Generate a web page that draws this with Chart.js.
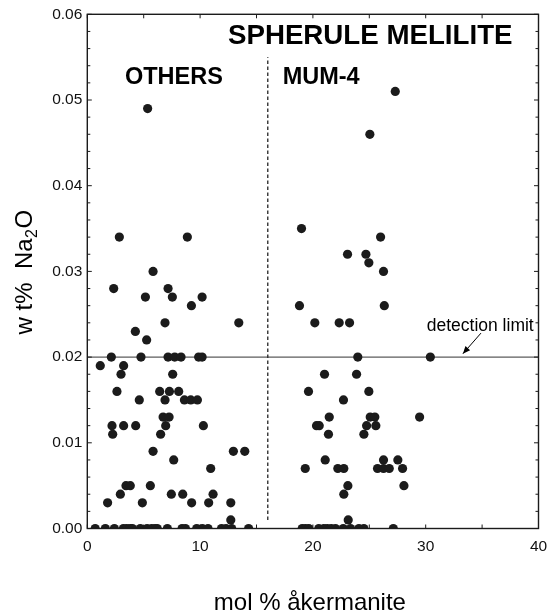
<!DOCTYPE html>
<html>
<head>
<meta charset="utf-8">
<script src="https://cdn.jsdelivr.net/npm/chart.js@4.4.1/dist/chart.umd.min.js"></script>
<style>
  html, body { margin: 0; padding: 0; background: #fff; }
</style>
</head>
<body>
<canvas id="chart" width="547" height="613"></canvas>
<script>
// [mol % akermanite, wt% Na2O]
const othersPts = [
  [5.35, 0.049],
  [2.84, 0.034], [8.87, 0.034],
  [5.83, 0.030],
  [2.34, 0.028], [7.16, 0.028],
  [5.15, 0.027], [7.54, 0.027], [10.18, 0.027],
  [9.23, 0.026],
  [6.89, 0.024], [13.43, 0.024],
  [4.26, 0.023],
  [5.26, 0.022],
  [2.13, 0.020], [4.76, 0.020], [7.16, 0.020], [7.75, 0.020], [8.31, 0.020], [9.87, 0.020], [10.18, 0.020],
  [1.15, 0.019], [3.22, 0.019],
  [2.99, 0.018], [7.57, 0.018],
  [2.63, 0.016], [6.42, 0.016], [7.28, 0.016], [8.10, 0.016],
  [4.61, 0.015], [6.89, 0.015], [8.61, 0.015], [9.17, 0.015], [9.76, 0.015],
  [6.72, 0.013], [7.25, 0.013],
  [2.19, 0.012], [3.22, 0.012], [4.29, 0.012], [6.95, 0.012], [10.29, 0.012],
  [2.25, 0.011], [6.50, 0.011],
  [5.83, 0.009], [12.95, 0.009], [13.96, 0.009],
  [7.66, 0.008],
  [10.94, 0.007],
  [3.43, 0.005], [3.81, 0.005], [5.59, 0.005],
  [2.93, 0.004], [7.45, 0.004], [8.46, 0.004], [11.15, 0.004],
  [1.80, 0.003], [4.88, 0.003], [9.25, 0.003], [10.76, 0.003], [12.72, 0.003],
  [12.72, 0.001],
  [0.7, 0], [1.6, 0], [2.4, 0], [3.2, 0], [3.5, 0], [3.8, 0], [4.0, 0], [4.7, 0],
  [5.3, 0], [5.7, 0], [6.0, 0], [6.2, 0], [7.1, 0], [8.4, 0], [8.7, 0], [9.7, 0],
  [10.2, 0], [10.7, 0], [11.9, 0], [12.3, 0], [12.8, 0], [14.3, 0]
];

const mumPts = [
  [27.3, 0.051],
  [25.05, 0.046],
  [18.99, 0.035],
  [26.0, 0.034],
  [23.07, 0.032], [24.7, 0.032],
  [24.96, 0.031],
  [26.26, 0.030],
  [18.81, 0.026], [26.33, 0.026],
  [20.17, 0.024], [22.33, 0.024], [23.25, 0.024],
  [23.98, 0.020], [30.41, 0.020],
  [21.03, 0.018], [23.87, 0.018],
  [19.61, 0.016], [24.96, 0.016],
  [22.71, 0.015],
  [21.45, 0.013], [25.08, 0.013], [25.49, 0.013], [29.46, 0.013],
  [20.32, 0.012], [20.56, 0.012], [24.76, 0.012], [25.58, 0.012],
  [21.38, 0.011], [24.52, 0.011],
  [21.09, 0.008], [26.26, 0.008], [27.53, 0.008],
  [19.32, 0.007], [22.21, 0.007], [22.74, 0.007], [25.73, 0.007], [26.26, 0.007], [26.77, 0.007], [27.95, 0.007],
  [23.1, 0.005], [28.07, 0.005],
  [22.74, 0.004],
  [23.13, 0.001],
  [19.05, 0], [19.34, 0], [19.64, 0], [20.52, 0], [20.97, 0], [21.27, 0], [21.62, 0],
  [22.0, 0], [22.69, 0], [23.34, 0], [24.08, 0], [24.52, 0], [27.13, 0]
];

const xRange = [0, 40];
const yRange = [0, 0.06];
const xTickStep = 10;
const yTickStep = 0.01;
const detectionLimit = 0.02;
const dividerX = 16;
const dividerSpan = [0.001, 0.055];

const FONT = "'Liberation Sans', Arial, Helvetica, sans-serif";
const INK = '#1b1b1b';

const toXY = p => ({ x: p[0], y: p[1] });

const framePlugin = {
  id: 'frame',
  afterDraw(chart) {
    const ctx = chart.ctx;
    const a = chart.chartArea;
    const xs = chart.scales.x;
    const ys = chart.scales.y;
    ctx.save();

    // box
    ctx.strokeStyle = INK;
    ctx.lineWidth = 1.4;
    ctx.strokeRect(a.left, a.top, a.right - a.left, a.bottom - a.top);

    // inward ticks
    ctx.lineWidth = 1;
    for (let i = 0; i <= 30; i++) {
      const v = i * 0.002;
      const py = ys.getPixelForValue(v);
      const len = i % 5 === 0 ? 4.5 : 3;
      ctx.beginPath();
      ctx.moveTo(a.left, py); ctx.lineTo(a.left + len, py);
      ctx.moveTo(a.right, py); ctx.lineTo(a.right - len, py);
      ctx.stroke();
    }
    for (let v = 0; v <= 40; v += 5) {
      const px = xs.getPixelForValue(v);
      ctx.beginPath();
      ctx.moveTo(px, a.bottom); ctx.lineTo(px, a.bottom - 4);
      ctx.moveTo(px, a.top); ctx.lineTo(px, a.top + 4);
      ctx.stroke();
    }

    ctx.fillStyle = '#000';
    ctx.textBaseline = 'alphabetic';
    ctx.textAlign = 'left';

    ctx.font = 'bold 27.7px ' + FONT;
    ctx.fillText('SPHERULE MELILITE', xs.getPixelForValue(12.47), ys.getPixelForValue(0.0565));

    ctx.font = 'bold 23.5px ' + FONT;
    ctx.fillText('OTHERS', xs.getPixelForValue(3.34), ys.getPixelForValue(0.0519));
    ctx.fillText('MUM-4', xs.getPixelForValue(17.32), ys.getPixelForValue(0.0519));

    ctx.font = '17.5px ' + FONT;
    ctx.fillText('detection limit', xs.getPixelForValue(30.09), ys.getPixelForValue(0.0231));

    // arrow to detection limit line
    const sx = xs.getPixelForValue(34.9), sy = ys.getPixelForValue(0.0228);
    const tx = xs.getPixelForValue(33.3), ty = ys.getPixelForValue(0.0204);
    ctx.strokeStyle = '#000';
    ctx.lineWidth = 1;
    ctx.beginPath(); ctx.moveTo(sx, sy); ctx.lineTo(tx, ty); ctx.stroke();
    const ang = Math.atan2(ty - sy, tx - sx);
    ctx.beginPath();
    ctx.moveTo(tx, ty);
    ctx.lineTo(tx - 8 * Math.cos(ang - 0.4), ty - 8 * Math.sin(ang - 0.4));
    ctx.lineTo(tx - 8 * Math.cos(ang + 0.4), ty - 8 * Math.sin(ang + 0.4));
    ctx.closePath();
    ctx.fill();

    // x axis title
    ctx.font = '24px ' + FONT;
    ctx.textAlign = 'center';
    ctx.fillText('mol % åkermanite', (a.left + a.right) / 2 - 3, 610);

    // y axis title with subscript
    ctx.translate(31.5, (a.top + a.bottom) / 2 + 63);
    ctx.rotate(-Math.PI / 2);
    ctx.textAlign = 'left';
    ctx.font = '24px ' + FONT;
    const p1 = 'w t%  Na';
    ctx.fillText(p1, 0, 0);
    let w = ctx.measureText(p1).width;
    ctx.font = '16px ' + FONT;
    ctx.fillText('2', w + 0.5, 5);
    w += ctx.measureText('2').width + 1;
    ctx.font = '24px ' + FONT;
    ctx.fillText('O', w, 0);

    ctx.restore();
  }
};

new Chart(document.getElementById('chart'), {
  type: 'scatter',
  data: {
    datasets: [
      {
        label: 'detection limit',
        type: 'line',
        data: [{ x: xRange[0], y: detectionLimit }, { x: xRange[1], y: detectionLimit }],
        borderColor: '#333',
        borderWidth: 1,
        pointRadius: 0,
        order: 3
      },
      {
        label: 'divider',
        type: 'line',
        data: [{ x: dividerX, y: dividerSpan[0] }, { x: dividerX, y: dividerSpan[1] }],
        borderColor: '#222',
        borderWidth: 1.3,
        borderDash: [3.5, 2.5],
        pointRadius: 0,
        order: 3
      },
      {
        label: 'OTHERS',
        data: othersPts.map(toXY),
        backgroundColor: INK,
        borderColor: INK,
        borderWidth: 0,
        pointRadius: 4.6,
        order: 1
      },
      {
        label: 'MUM-4',
        data: mumPts.map(toXY),
        backgroundColor: INK,
        borderColor: INK,
        borderWidth: 0,
        pointRadius: 4.6,
        order: 1
      }
    ]
  },
  options: {
    responsive: false,
    animation: false,
    layout: { padding: { left: 0, right: 0, top: 13.5, bottom: 0 } },
    plugins: { legend: { display: false }, tooltip: { enabled: false } },
    scales: {
      x: {
        type: 'linear',
        min: xRange[0],
        max: xRange[1],
        grid: { display: false, drawTicks: false },
        border: { display: false },
        ticks: {
          stepSize: xTickStep,
          padding: 9,
          color: '#111',
          font: { family: FONT, size: 15.5 }
        },
        afterFit(scale) {
          scale.height = 84.5;
          scale.paddingRight = 8.5;
        }
      },
      y: {
        min: yRange[0],
        max: yRange[1],
        grid: { display: false, drawTicks: false },
        border: { display: false },
        ticks: {
          stepSize: yTickStep,
          padding: 5,
          color: '#111',
          font: { family: FONT, size: 15.5 },
          callback: v => v.toFixed(2)
        },
        afterFit(scale) { scale.width = 87.3; }
      }
    }
  },
  plugins: [framePlugin]
});
</script>
</body>
</html>
